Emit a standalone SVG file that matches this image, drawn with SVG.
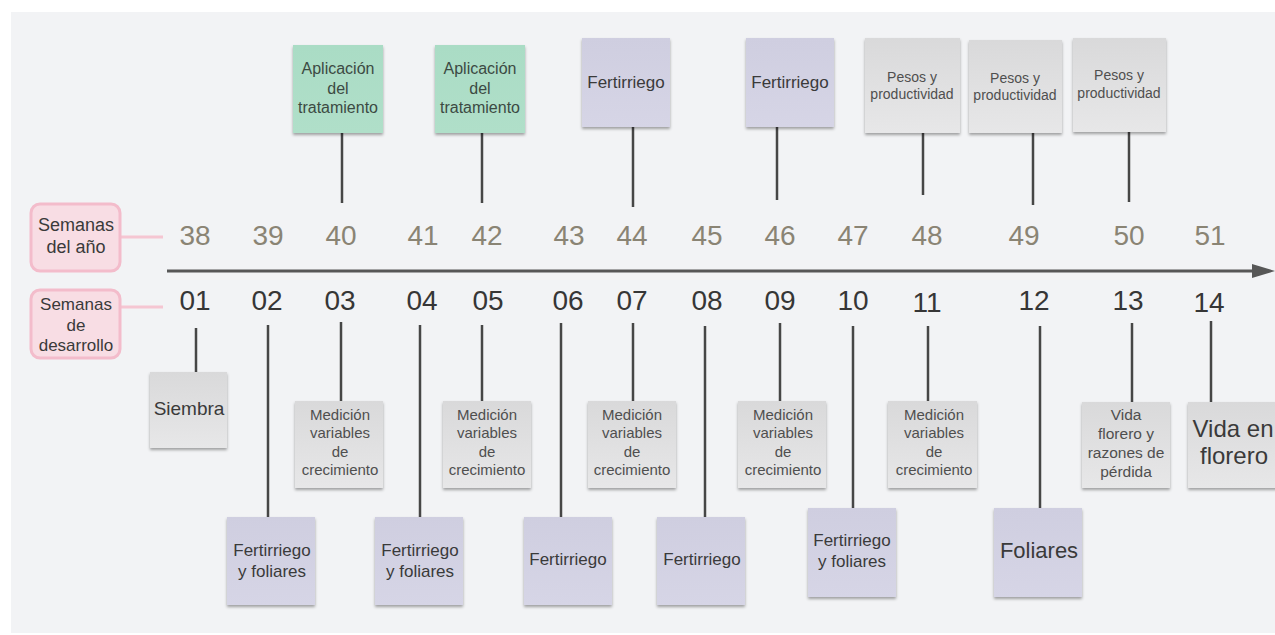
<svg xmlns="http://www.w3.org/2000/svg" width="1275" height="635" viewBox="0 0 1275 635">
<defs>
<linearGradient id="gGray" x1="0" y1="0" x2="0" y2="1">
<stop offset="0" stop-color="#d9d9da"/>
<stop offset="1" stop-color="#e7e7e8"/>
</linearGradient>
<linearGradient id="gPurple" x1="0" y1="0" x2="0" y2="1">
<stop offset="0" stop-color="#cfcee0"/>
<stop offset="1" stop-color="#d6d5e6"/>
</linearGradient>
<linearGradient id="gGreen" x1="0" y1="0" x2="0" y2="1">
<stop offset="0" stop-color="#aadcc5"/>
<stop offset="1" stop-color="#b0dfc9"/>
</linearGradient>
<filter id="shadow" x="-10%" y="-10%" width="120%" height="125%">
<feDropShadow dx="0" dy="2" stdDeviation="1.6" flood-color="#000" flood-opacity="0.35"/>
</filter>
<style>
text{font-family:"Liberation Sans",Arial,sans-serif;text-anchor:middle}
.gray{fill:url(#gGray);filter:url(#shadow)}
.purple{fill:url(#gPurple);filter:url(#shadow)}
.green{fill:url(#gGreen);filter:url(#shadow)}
.pink{fill:#f8dde4;stroke:#f3bccb;stroke-width:3}
.pinkline{stroke:#f5c6d2;stroke-width:3;fill:none}
.conn{stroke:#464646;stroke-width:2.5;fill:none}
.axis{stroke:#575757;stroke-width:3;fill:none}
.yr{font-size:28px;fill:#8a8474}
.dv{font-size:28px;fill:#363636}
.t{fill:#3a3a3a}
.tg{fill:#4f4f4f}
.tgr{fill:#3c4a43}
</style>
</defs>
<rect x="0" y="0" width="1275" height="635" fill="#ffffff"/>
<rect x="11" y="12" width="1264" height="621" fill="#f2f3f5"/>

<g id="connectors">
<line class="pinkline" x1="120" y1="237" x2="163" y2="237"/>
<line class="pinkline" x1="120" y1="307" x2="163" y2="307"/>
<line class="axis" x1="167" y1="271" x2="1256" y2="271"/>
<polygon points="1252,264 1275,271 1252,278" fill="#575757"/>
<line class="conn" x1="342" y1="133" x2="342" y2="203"/>
<line class="conn" x1="482" y1="133" x2="482" y2="203"/>
<line class="conn" x1="633" y1="127" x2="633" y2="207"/>
<line class="conn" x1="777" y1="127" x2="777" y2="200"/>
<line class="conn" x1="923" y1="133" x2="923" y2="195"/>
<line class="conn" x1="1033" y1="133" x2="1033" y2="205"/>
<line class="conn" x1="1129" y1="132" x2="1129" y2="202"/>
<line class="conn" x1="196" y1="328" x2="196" y2="372"/>
<line class="conn" x1="268" y1="325" x2="268" y2="517"/>
<line class="conn" x1="341" y1="322" x2="341" y2="401"/>
<line class="conn" x1="420" y1="325" x2="420" y2="517"/>
<line class="conn" x1="482" y1="325" x2="482" y2="401"/>
<line class="conn" x1="561" y1="323" x2="561" y2="517"/>
<line class="conn" x1="633" y1="323" x2="633" y2="401"/>
<line class="conn" x1="705" y1="326" x2="705" y2="517"/>
<line class="conn" x1="780" y1="323" x2="780" y2="401"/>
<line class="conn" x1="853" y1="326" x2="853" y2="508"/>
<line class="conn" x1="928" y1="326" x2="928" y2="401"/>
<line class="conn" x1="1040" y1="326" x2="1040" y2="508"/>
<line class="conn" x1="1132" y1="323" x2="1132" y2="402"/>
<line class="conn" x1="1211" y1="321" x2="1211" y2="402"/>
</g>

<g id="label-semanas-anio">
<rect class="pink" x="31" y="204" width="89" height="67" rx="9"/>
<text class="t" x="76" y="231" font-size="18">Semanas</text>
<text class="t" x="76" y="253" font-size="18">del año</text>
</g>
<g id="label-semanas-desarrollo">
<rect class="pink" x="31" y="290" width="89" height="68" rx="9"/>
<text class="t" x="76" y="310" font-size="17">Semanas</text>
<text class="t" x="76" y="331" font-size="17">de</text>
<text class="t" x="76" y="351" font-size="17">desarrollo</text>
</g>

<g id="weeks-year">
<text class="yr" x="195" y="245">38</text>
<text class="yr" x="268" y="245">39</text>
<text class="yr" x="341" y="245">40</text>
<text class="yr" x="423" y="245">41</text>
<text class="yr" x="487" y="245">42</text>
<text class="yr" x="569" y="245">43</text>
<text class="yr" x="632" y="245">44</text>
<text class="yr" x="707" y="245">45</text>
<text class="yr" x="780" y="245">46</text>
<text class="yr" x="853" y="245">47</text>
<text class="yr" x="927" y="245">48</text>
<text class="yr" x="1024" y="245">49</text>
<text class="yr" x="1129" y="245">50</text>
<text class="yr" x="1210" y="245">51</text>
</g>
<g id="weeks-dev">
<text class="dv" x="195" y="310">01</text>
<text class="dv" x="267" y="310">02</text>
<text class="dv" x="340" y="310">03</text>
<text class="dv" x="422" y="310">04</text>
<text class="dv" x="488" y="310">05</text>
<text class="dv" x="568" y="310">06</text>
<text class="dv" x="632" y="310">07</text>
<text class="dv" x="707" y="310">08</text>
<text class="dv" x="780" y="310">09</text>
<text class="dv" x="853" y="310">10</text>
<text class="dv" x="927" y="312">11</text>
<text class="dv" x="1034" y="310">12</text>
<text class="dv" x="1128" y="310">13</text>
<text class="dv" x="1209" y="312">14</text>
</g>

<g id="top-aplicacion-1">
<rect class="green" x="293" y="45" width="90" height="88"/>
<text class="tgr" x="338" y="74" font-size="16">Aplicación</text>
<text class="tgr" x="338" y="94" font-size="16">del</text>
<text class="tgr" x="338" y="113" font-size="16">tratamiento</text>
</g>
<g id="top-aplicacion-2">
<rect class="green" x="435" y="45" width="90" height="88"/>
<text class="tgr" x="480" y="74" font-size="16">Aplicación</text>
<text class="tgr" x="480" y="94" font-size="16">del</text>
<text class="tgr" x="480" y="113" font-size="16">tratamiento</text>
</g>
<g id="top-fertirriego-1">
<rect class="purple" x="582" y="38" width="88" height="89"/>
<text class="t" x="626" y="88" font-size="17">Fertirriego</text>
</g>
<g id="top-fertirriego-2">
<rect class="purple" x="746" y="38" width="88" height="89"/>
<text class="t" x="790" y="88" font-size="17">Fertirriego</text>
</g>
<g id="top-pesos-1">
<rect class="gray" x="865" y="38" width="95" height="95"/>
<text class="tg" x="912" y="82" font-size="14">Pesos y</text>
<text class="tg" x="912" y="99" font-size="14">productividad</text>
</g>
<g id="top-pesos-2">
<rect class="gray" x="969" y="40" width="93" height="93"/>
<text class="tg" x="1015" y="83" font-size="14">Pesos y</text>
<text class="tg" x="1015" y="100" font-size="14">productividad</text>
</g>
<g id="top-pesos-3">
<rect class="gray" x="1073" y="38" width="93" height="94"/>
<text class="tg" x="1119" y="80" font-size="14">Pesos y</text>
<text class="tg" x="1119" y="98" font-size="14">productividad</text>
</g>

<g id="siembra">
<rect class="gray" x="150" y="372" width="77" height="76"/>
<text class="t" x="189" y="415" font-size="19">Siembra</text>
</g>
<g id="fert-fol-1">
<rect class="purple" x="227" y="517" width="88" height="88"/>
<text class="t" x="272" y="556" font-size="17">Fertirriego</text>
<text class="t" x="272" y="577" font-size="17">y foliares</text>
</g>
<g id="medicion-1">
<rect class="gray" x="295" y="401" width="88" height="87"/>
<text class="tg" x="340" y="420" font-size="15">Medición</text>
<text class="tg" x="340" y="438" font-size="15">variables</text>
<text class="tg" x="340" y="457" font-size="15">de</text>
<text class="tg" x="340" y="475" font-size="15">crecimiento</text>
</g>
<g id="fert-fol-2">
<rect class="purple" x="375" y="517" width="88" height="88"/>
<text class="t" x="420" y="556" font-size="17">Fertirriego</text>
<text class="t" x="420" y="577" font-size="17">y foliares</text>
</g>
<g id="medicion-2">
<rect class="gray" x="443" y="401" width="88" height="87"/>
<text class="tg" x="487" y="420" font-size="15">Medición</text>
<text class="tg" x="487" y="438" font-size="15">variables</text>
<text class="tg" x="487" y="457" font-size="15">de</text>
<text class="tg" x="487" y="475" font-size="15">crecimiento</text>
</g>
<g id="fert-1">
<rect class="purple" x="524" y="517" width="88" height="88"/>
<text class="t" x="568" y="565" font-size="17">Fertirriego</text>
</g>
<g id="medicion-3">
<rect class="gray" x="588" y="401" width="88" height="87"/>
<text class="tg" x="632" y="420" font-size="15">Medición</text>
<text class="tg" x="632" y="438" font-size="15">variables</text>
<text class="tg" x="632" y="457" font-size="15">de</text>
<text class="tg" x="632" y="475" font-size="15">crecimiento</text>
</g>
<g id="fert-2">
<rect class="purple" x="657" y="517" width="88" height="88"/>
<text class="t" x="702" y="565" font-size="17">Fertirriego</text>
</g>
<g id="medicion-4">
<rect class="gray" x="738" y="401" width="88" height="87"/>
<text class="tg" x="783" y="420" font-size="15">Medición</text>
<text class="tg" x="783" y="438" font-size="15">variables</text>
<text class="tg" x="783" y="457" font-size="15">de</text>
<text class="tg" x="783" y="475" font-size="15">crecimiento</text>
</g>
<g id="fert-fol-3">
<rect class="purple" x="808" y="508" width="88" height="89"/>
<text class="t" x="852" y="546" font-size="17">Fertirriego</text>
<text class="t" x="852" y="567" font-size="17">y foliares</text>
</g>
<g id="medicion-5">
<rect class="gray" x="888" y="401" width="89" height="87"/>
<text class="tg" x="934" y="420" font-size="15">Medición</text>
<text class="tg" x="934" y="438" font-size="15">variables</text>
<text class="tg" x="934" y="457" font-size="15">de</text>
<text class="tg" x="934" y="475" font-size="15">crecimiento</text>
</g>
<g id="foliares">
<rect class="purple" x="994" y="508" width="88" height="89"/>
<text class="t" x="1039" y="558" font-size="22">Foliares</text>
</g>
<g id="vida-florero-razones">
<rect class="gray" x="1082" y="402" width="88" height="86"/>
<text class="tg" x="1126" y="420" font-size="15.5">Vida</text>
<text class="tg" x="1126" y="439" font-size="15.5">florero y</text>
<text class="tg" x="1126" y="458" font-size="15.5">razones de</text>
<text class="tg" x="1126" y="477" font-size="15.5">pérdida</text>
</g>
<g id="vida-en-florero">
<rect class="gray" x="1188" y="402" width="90" height="86"/>
<text class="t" x="1233" y="437" font-size="24">Vida en</text>
<text class="t" x="1234" y="464" font-size="24">florero</text>
</g>
</svg>
